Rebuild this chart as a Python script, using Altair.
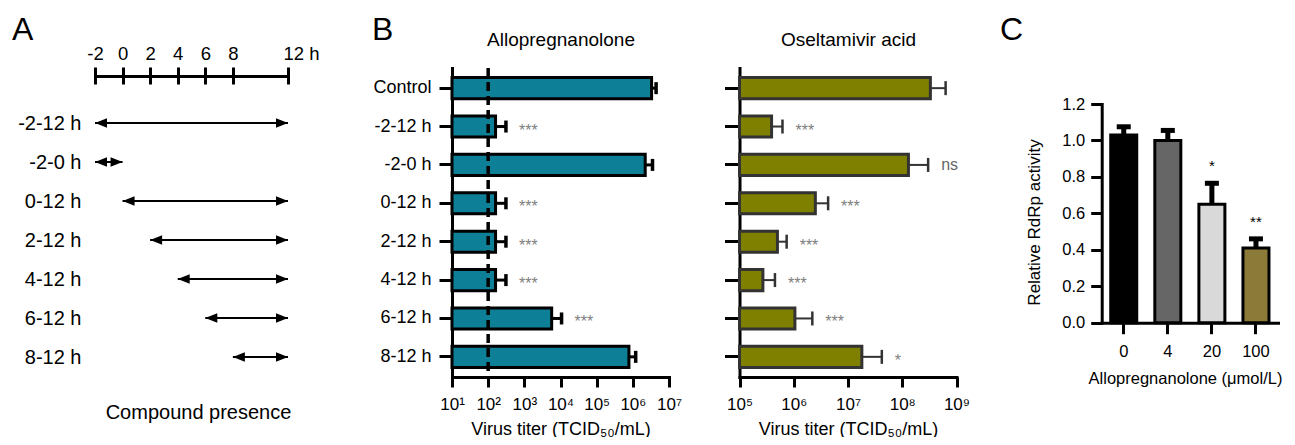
import altair as alt
import pandas as pd

FONT = "Liberation Sans"

# ---------------- data ----------------
# Panel A: time-of-addition scheme
TIMELINE_TICKS = [-2, 0, 2, 4, 6, 8, 12]
TIMELINE_LABELS = ["-2", "0", "2", "4", "6", "8", "12 h"]
ROWS_A = ["-2-12 h", "-2-0 h", "0-12 h", "2-12 h", "4-12 h", "6-12 h", "8-12 h"]
START_A = [-2, -2, 0, 2, 4, 6, 8]
END_A = [12, 0, 12, 12, 12, 12, 12]

# Panel B: virus titers
CATS_B = ["Control", "-2-12 h", "-2-0 h", "0-12 h", "2-12 h", "4-12 h", "6-12 h", "8-12 h"]
ALLO_TITER = [3.3e6, 1.6e2, 2.2e6, 1.6e2, 1.6e2, 1.6e2, 5.7e3, 7.8e5]
ALLO_UPPER = [4.4e6, 3.1e2, 3.5e6, 3.1e2, 3.1e2, 3.1e2, 1.07e4, 1.2e6]
ALLO_SIG = ["", "***", "", "***", "***", "***", "***", ""]
ALLO_DETECTION_LIMIT = [100.0]
ALLO_TICKS = [1e1, 1e2, 1e3, 1e4, 1e5, 1e6, 1e7]
ALLO_TICK_LABELS = ["10¹", "10²", "10³", "10⁴", "10⁵", "10⁶", "10⁷"]

OSEL_TITER = [3.3e8, 3.9e5, 1.3e8, 2.5e6, 5.0e5, 2.7e5, 1.05e6, 1.8e7]
OSEL_UPPER = [6.3e8, 6.2e5, 3.0e8, 4.3e6, 7.4e5, 4.5e5, 2.2e6, 4.2e7]
OSEL_SIG = ["", "***", "ns", "***", "***", "***", "***", "*"]
OSEL_TICKS = [1e5, 1e6, 1e7, 1e8, 1e9]
OSEL_TICK_LABELS = ["10⁵", "10⁶", "10⁷", "10⁸", "10⁹"]

# Panel C: RdRp activity
CONC_C = ["0", "4", "20", "100"]
RDRP = [1.03, 1.00, 0.65, 0.41]
RDRP_UPPER = [1.075, 1.055, 0.765, 0.46]
RDRP_SIG = ["", "", "*", "**"]
C_COLORS = ["#000000", "#666666", "#d9d9d9", "#8b7a38"]
C_TICKS = [0.0, 0.2, 0.4, 0.6, 0.8, 1.0, 1.2]

TEAL = "#0d7f96"
OLIVE = "#808000"

# ---------------- layout (chart pixels) ----------------
W, H = 1279, 429
A_X_RANGE = [87, 280]
A_Y_RANGE = [115, 349]
A_AXIS_Y = 68
B_Y_RANGE = [60, 369]
B1_X_RANGE = [444, 661]
B2_X_RANGE = [731.5, 948.5]
C_X_RANGE = [1093.7, 1270]
C_Y_RANGE = [314.7, 96]


def label_expr(values, labels):
    expr = "''"
    for v, l in reversed(list(zip(values, labels))):
        expr = f"datum.value == {float(v)!r} ? '{l}' : ({expr})"
    return expr


# ---------------- Panel A ----------------
dfA = pd.DataFrame({"row": ROWS_A, "start": START_A, "end": END_A})


def xA(field, axis=None):
    return alt.X(field, scale=alt.Scale(domain=[TIMELINE_TICKS[0], TIMELINE_TICKS[-1]],
                                        range=A_X_RANGE, nice=False, zero=False), axis=axis)


def yA(axis=None):
    return alt.Y("row:N", scale=alt.Scale(type="point", domain=ROWS_A, range=A_Y_RANGE, padding=0),
                 axis=axis)


last_tick_test = f"datum.value == {TIMELINE_TICKS[-1]}"
timeline_top = alt.Axis(orient="top", offset=-A_AXIS_Y, values=TIMELINE_TICKS,
                        labelExpr=label_expr(TIMELINE_TICKS, TIMELINE_LABELS),
                        labelAlign={"condition": {"test": last_tick_test, "value": "left"}, "value": "center"},
                        labelOffset={"condition": {"test": last_tick_test, "value": -5}, "value": 0},
                        domainWidth=3, domainCap="square", tickWidth=3, tickSize=9, labelPadding=4,
                        labelFontSize=18.5, labelFlush=False, labelOverlap=False, title=None)
timeline_bottom = alt.Axis(orient="bottom", offset=A_AXIS_Y - H, values=TIMELINE_TICKS, domain=False,
                           labels=False, tickSize=8, tickWidth=3, title=None)
row_axis = alt.Axis(orient="left", offset=-73, domain=False, ticks=False, tickSize=0, labelPadding=0,
                    labelFontSize=20, title=None)
presence_axis = alt.Axis(orient="bottom", offset=0, domain=False, ticks=False, labels=False,
                         title="Compound presence", titleFontSize=20, titleX=190, titleY=-19,
                         titleAlign="center", titleBaseline="alphabetic")

LEFT_HEAD = "M0,0L2,-0.8L2,0.8Z"
RIGHT_HEAD = "M0,0L-2,-0.8L-2,0.8Z"

a_lines = alt.Chart(dfA).mark_rule(strokeWidth=2, color="black").encode(
    x=xA("start:Q", timeline_top), x2="end:Q", y=yA(row_axis))
a_left = alt.Chart(dfA).mark_point(shape=LEFT_HEAD, filled=True, size=144, color="black", opacity=1).encode(
    x=xA("start:Q", timeline_bottom), y=yA())
a_right = alt.Chart(dfA).mark_point(shape=RIGHT_HEAD, filled=True, size=144, color="black", opacity=1).encode(
    x=xA("end:Q", presence_axis), y=yA())


# ---------------- Panel B ----------------
def yB(axis=None):
    return alt.Y("cat:N", scale=alt.Scale(type="band", domain=CATS_B, range=B_Y_RANGE,
                                          paddingInner=0.45, paddingOuter=0.25), axis=axis)


def make_b_panel(titer, upper, sig, ticks, tick_labels, x_range, title, fill, stroke,
                 err_w, cap_size, show_labels, y_tick, dash=None):
    df = pd.DataFrame({"cat": CATS_B, "titer": titer, "upper": upper, "sig": sig})
    df["base"] = ticks[0]

    def xB(field, axis=None):
        return alt.X(field, scale=alt.Scale(type="log", domain=[ticks[0], ticks[-1]], range=x_range,
                                            nice=False), axis=axis)

    x_axis = alt.Axis(orient="bottom", offset=B_Y_RANGE[1] - H, values=ticks,
                      labelExpr=label_expr(ticks, tick_labels), domainWidth=3, domainCap="square",
                      tickWidth=3, tickSize=10, labelPadding=9, labelFontSize=17, labelFlush=False,
                      labelOverlap=False, title="Virus titer (TCID₅₀/mL)", titleFontSize=18,
                      titleAlign="center", titleBaseline="alphabetic", titleY=57)
    y_axis = alt.Axis(orient="left", offset=-x_range[0], domainWidth=3, domainCap="square", tickWidth=3,
                      tickSize=y_tick, labelPadding=8, labelFontSize=18, labels=show_labels, title=None)
    title_axis = alt.Axis(orient="top", offset=0, domain=False, ticks=False, labels=False, title=title,
                          titleFontSize=19, titleAlign="center", titleBaseline="alphabetic", titleY=37.5)

    layers = [
        alt.Chart(df).mark_bar(fill=fill, stroke=stroke, strokeWidth=3).encode(
            x=xB("titer:Q", x_axis), x2="base:Q", y=yB(y_axis)),
    ]
    if dash is not None:
        dfd = pd.DataFrame({"x": dash, "y0": [0], "y1": [1]})
        layers.append(alt.Chart(dfd).mark_rule(strokeDash=[9, 5], strokeWidth=3.5, color="black").encode(
            x=xB("x:Q", title_axis),
            y=alt.Y("y0:Q", scale=alt.Scale(domain=[0, 1], range=B_Y_RANGE, nice=False, zero=False), axis=None),
            y2="y1:Q"))
        err_axis = None
    else:
        err_axis = title_axis
    layers += [
        alt.Chart(df).mark_rule(strokeWidth=err_w, color=stroke).encode(
            x=xB("titer:Q", err_axis), x2="upper:Q", y=yB()),
        alt.Chart(df).mark_tick(thickness=err_w + 0.5, size=cap_size, color=stroke, opacity=1).encode(
            x=xB("upper:Q"), y=yB()),
        alt.Chart(df).transform_filter("datum.sig != '' && datum.sig != 'ns'").mark_text(
            align="left", baseline="alphabetic", dx=13, dy=9, fontSize=16, color="#808080").encode(
            x=xB("upper:Q"), y=yB(), text="sig:N"),
        alt.Chart(df).transform_filter("datum.sig == 'ns'").mark_text(
            align="left", baseline="alphabetic", dx=13, dy=5, fontSize=16, color="#666666").encode(
            x=xB("upper:Q"), y=yB(), text="sig:N"),
    ]
    return layers


b1 = make_b_panel(ALLO_TITER, ALLO_UPPER, ALLO_SIG, ALLO_TICKS, ALLO_TICK_LABELS, B1_X_RANGE,
                  "Allopregnanolone", TEAL, "black", 3, 12, True, 13, dash=ALLO_DETECTION_LIMIT)
b2 = make_b_panel(OSEL_TITER, OSEL_UPPER, OSEL_SIG, OSEL_TICKS, OSEL_TICK_LABELS, B2_X_RANGE,
                  "Oseltamivir acid", OLIVE, "#333333", 2, 14, False, 15)

# ---------------- Panel C ----------------
dfC = pd.DataFrame({"conc": CONC_C, "val": RDRP, "upper": RDRP_UPPER, "sig": RDRP_SIG})
dfC["zero"] = C_TICKS[0]


def xC(axis=None):
    return alt.X("conc:N", scale=alt.Scale(type="band", domain=CONC_C, range=C_X_RANGE,
                                           paddingInner=0.41, paddingOuter=0.205), axis=axis)


def yC(field, axis=None):
    return alt.Y(field, scale=alt.Scale(domain=[C_TICKS[0], C_TICKS[-1]], range=C_Y_RANGE, nice=False,
                                        zero=False), axis=axis)


c_y_axis = alt.Axis(orient="left", offset=-C_X_RANGE[0], values=C_TICKS, format=".1f", domainWidth=3,
                    domainCap="square", tickWidth=3, tickSize=11, labelPadding=6, labelFontSize=16.5,
                    title="Relative RdRp activity", titleFontSize=17, titleX=-58, titleY=214,
                    titleAlign="center", titleBaseline="bottom")
c_x_axis = alt.Axis(orient="bottom", offset=C_Y_RANGE[0] - H, domainWidth=3, domainCap="square",
                    tickWidth=3, tickSize=11, labelPadding=10, labelFontSize=16.5, labelAngle=0,
                    title="Allopregnanolone (μmol/L)", titleFontSize=16.5, titleAlign="center",
                    titleBaseline="alphabetic", titleX=1177, titleY=60.3)

c_bars = alt.Chart(dfC).mark_bar(stroke="black", strokeWidth=3).encode(
    x=xC(c_x_axis), y=yC("val:Q", c_y_axis), y2="zero:Q",
    fill=alt.Fill("conc:N", scale=alt.Scale(domain=CONC_C, range=C_COLORS), legend=None))
c_err = alt.Chart(dfC).mark_rule(strokeWidth=5, color="black").encode(
    x=xC(), y=yC("val:Q"), y2="upper:Q")
c_cap = alt.Chart(dfC).mark_tick(thickness=5, size=14, color="black", opacity=1).encode(
    x=xC(), y=yC("upper:Q"))
c_sig = alt.Chart(dfC).transform_filter("datum.sig != ''").mark_text(
    baseline="alphabetic", dy=-12, fontSize=15, color="black").encode(
    x=xC(), y=yC("upper:Q"), text="sig:N")


# ---------------- panel letters ----------------
def letter(t, xpx):
    return alt.Chart(pd.DataFrame({"t": [t]})).mark_text(
        align="left", baseline="alphabetic", fontSize=32, color="black").encode(
        x=alt.value(xpx), y=alt.value(32), text="t:N")


layers = [a_lines, a_left, a_right] + b1 + b2 + [c_bars, c_err, c_cap, c_sig,
                                                 letter("A", 4), letter("B", 364), letter("C", 992)]

chart = alt.layer(*layers).resolve_scale(
    x="independent", y="independent", fill="independent"
).properties(
    width=W, height=H, padding=0, autosize="none"
).configure(
    font=FONT, background="white"
).configure_view(
    stroke=None
).configure_axis(
    grid=False, domainColor="black", tickColor="black", labelColor="black", titleColor="black",
    labelFont=FONT, titleFont=FONT, titleFontWeight="normal"
)

chart.save("out.html", embed_options={"renderer": "svg", "actions": False})
